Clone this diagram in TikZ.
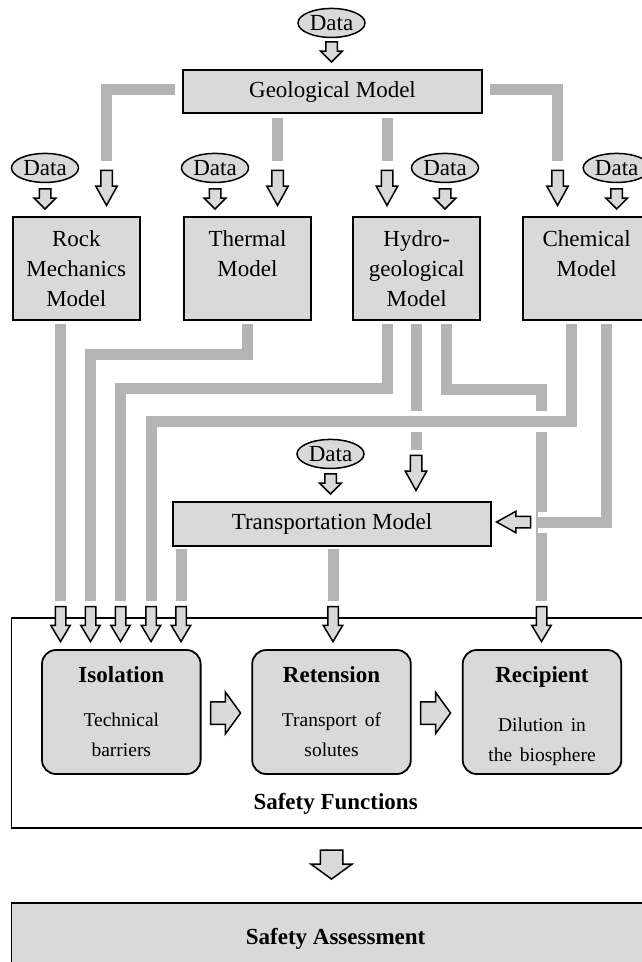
\documentclass[tikz,border=0pt]{standalone}
\usepackage{fontspec}
\setmainfont{Liberation Serif}
\usetikzlibrary{%
    shapes.geometric,%
    shapes.arrows,%
    positioning
    }
\definecolor{mygray1}{RGB}{217,217,217}
\definecolor{mygray2}{RGB}{180,180,180}
\tikzset{
  model1/.style={
    rectangle,
    draw=black,
    line width=1.8pt,
    fill=mygray1,
    text width=123pt,
    align=center,
    minimum width=127pt,
    minimum height=103pt,
    inner xsep=2pt,
    inner ysep=0pt,
    text height=30pt,
    text depth=73pt,
  },
  wide1/.style={
    rectangle,
    draw=black,
    line width=1.8pt,
    fill=mygray1,
    inner sep=0pt,
    minimum height=44pt,
  },
  data1/.style={
    ellipse,
    draw=black,
    line width=1.5pt,
    fill=mygray1,
    inner sep=0pt,
    minimum width=67pt,
    minimum height=29pt,
  },
  func1/.style={
    rectangle,
    rounded corners=14pt,
    draw=black,
    line width=1.8pt,
    fill=mygray1,
    text width=150pt,
    align=center,
    minimum width=158.6pt,
    minimum height=124pt,
    inner xsep=4.3pt,
    inner ysep=0pt,
    text height=32pt,
    text depth=92pt,
  },
  frame1/.style={
    rectangle,
    draw=black,
    line width=1.8pt,
    inner sep=0pt,
    minimum width=648.2pt,
    font=\fontsize{23}{30}\selectfont\bfseries,
  },
  down1/.style={
    single arrow,
    shape border rotate=270,
    draw=black,
    line width=1.5pt,
    fill=mygray1,
    inner sep=5pt,
    minimum height=35pt,
    single arrow head extend=5pt,
    single arrow tip angle=58,
    anchor=tip,
  },
  small1/.style={
    down1,
    minimum height=20pt,
    single arrow tip angle=90,
  },
  in1/.style={
    down1,
    inner sep=4.5pt,
    single arrow head extend=4.5pt,
    single arrow tip angle=62,
  },
  fat1/.style={
    single arrow,
    draw=black,
    line width=1.5pt,
    fill=mygray1,
    inner xsep=0pt,
    inner ysep=10.5pt,
    minimum height=30pt,
    single arrow head extend=9.5pt,
    single arrow tip angle=108,
    anchor=tip,
  },
  pipe1/.style={
    draw=mygray2,
    line width=11pt,
  },
  halo1/.style={
    preaction={draw=white, line width=21pt},
  },
}
\begin{document}
\begin{tikzpicture}[x=1pt, y=-1pt, font=\fontsize{23}{30}\selectfont]
\clip (0,0) rectangle (642,962);

\node[small1] (adgeo) at (331.5,63) {};
\node[data1, above=3pt of adgeo.tail] (dgeo) {Data};
\node[wide1, minimum width=299pt, minimum height=43pt] 
  (geo) 
  at (332.5,91.5)
  {Geological Model};

\node[down1] (ageo1) at (106.5,207) {};
\node[down1] (ageo2) at (277.5,207) {};
\node[down1] (ageo3) at (387,207) {};
\node[down1] (ageo4) at (557.5,207) {};

\node[small1] (adrock) at (45,210) {};
\node[small1] (adtherm) at (215,210) {};
\node[small1] (adhydro) at (445,210) {};
\node[small1] (adchem) at (616.7,210) {};
\node[data1, above=5pt of adrock.tail] (drock) {Data};
\node[data1, above=5pt of adtherm.tail] (dtherm) {Data};
\node[data1, above=5pt of adhydro.tail] (dhydro) {Data};
\node[data1, above=5pt of adchem.tail] (dchem) {Data};

\node[model1] 
  (rock) 
  at (76.3,268.3)
  {Rock\\Mechanics\\Model};
\node[model1] 
  (therm) 
  at (247.5,268.3)
  {Thermal\\Model};
\node[model1] 
  (hydro) 
  at (416.7,268.3)
  {Hydro-\\geological\\Model};
\node[model1] 
  (chem) 
  at (586.7,268.3)
  {Chemical\\Model};

\node[small1] (adtrans) at (330.5,495) {};
\node[data1, above=4pt of adtrans.tail] (dtrans) {Data};
\node[down1] (atrh) at (416,492) {};
\node[wide1, minimum width=318pt] 
  (trans) 
  at (332,524)
  {Transportation Model};
\node[down1, shape border rotate=180, minimum height=34pt] (atrc) at (495,522) {};

\node[frame1, text height=191pt, text depth=19pt] 
  (safety) 
  at (335.6,723)
  {Safety Functions};
\node[func1] 
  (iso) 
  at (121.3,712)
  {\textbf{Isolation}\\[19pt]\fontsize{19.5}{25}\selectfont Technical\\barriers};
\node[func1] 
  (ret) 
  at (331.5,712)
  {\textbf{Retension}\\[19pt]\fontsize{19.5}{25}\selectfont Transport of\\solutes};
\node[func1] 
  (rec) 
  at (542,712)
  {\textbf{Recipient}\\[23pt]\fontsize{19.5}{26}\selectfont Dilution in\\the biosphere};
\node[fat1] (aisoret) at (241.5,713) {};
\node[fat1] (aretrec) at (451.5,713) {};

\node[in1] (aiso1) at (60.5,643) {};
\node[in1] (aiso2) at (90.5,643) {};
\node[in1] (aiso3) at (120.5,643) {};
\node[in1] (aiso4) at (151,643) {};
\node[in1] (aiso5) at (181,643) {};
\node[in1] (aret) at (333,643) {};
\node[in1] (arec) at (541.5,643) {};

\node[fat1, shape border rotate=270, inner xsep=10.5pt, inner ysep=0pt, minimum height=29pt] 
  (asafe) 
  at (331.5,880) 
  {};
\node[frame1, fill=mygray1, minimum height=72pt] 
  (assess) 
  at (335.6,939)
  {Safety Assessment};

\begin{scope}[pipe1]
\draw[shorten <=7pt, shorten >=9pt]
  ([yshift=2pt]geo.west) -| (ageo1.tail);
\draw[shorten <=4pt, shorten >=9pt]
  (geo.south -| ageo2.tail) -- (ageo2.tail);
\draw[shorten <=4pt, shorten >=9pt]
  (geo.south -| ageo3.tail) -- (ageo3.tail);
\draw[shorten <=7pt, shorten >=9pt]
  ([yshift=2pt]geo.east) -| (ageo4.tail);
\draw[shorten <=3pt, shorten >=5pt]
  (rock.south -| aiso1.tail) -- (aiso1.tail);
\draw[shorten <=3pt, shorten >=5pt]
  (therm.south) -- ++(0,34) -| (aiso2.tail);
\draw[shorten <=3pt, shorten >=5pt]
  ([xshift=-29pt]hydro.south) -- ++(0,68) -| (aiso3.tail);
\draw[shorten <=3pt, shorten >=5pt]
  (hydro.south -| atrh.tail) -- (atrh.tail);
\draw[shorten <=3pt, shorten >=5pt]
  ([xshift=30pt]hydro.south) -- ++(0,69) -| (arec.tail);
\draw[halo1, shorten <=3pt, shorten >=5pt]
  ([xshift=-15pt]chem.south) -- ++(0,101) -| (aiso4.tail);
\draw[halo1, shorten <=3pt, shorten >=6.5pt]
  ([xshift=20pt]chem.south) |- (atrc.tail);
\draw[shorten <=2pt, shorten >=5pt]
  (trans.south -| aiso5.tail) -- (aiso5.tail);
\draw[shorten <=2pt, shorten >=5pt]
  (trans.south -| aret.tail) -- (aret.tail);
\end{scope}
\end{tikzpicture}
\end{document}
